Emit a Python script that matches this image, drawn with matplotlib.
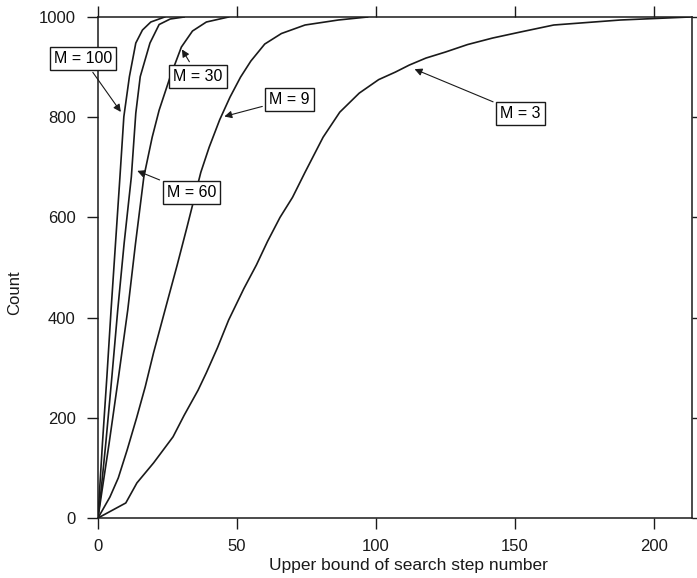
import matplotlib
matplotlib.use("Agg")
import matplotlib.pyplot as plt

plt.rcParams["font.family"] = ["Liberation Sans", "DejaVu Sans"]

# cumulative counts (x = upper bound of search step number)
m3_x = [0, 10, 14, 20, 27, 31, 36, 39, 43, 47, 52.5, 57, 61, 65.5, 70, 74.5, 81, 87, 94, 101, 107, 112, 118, 125, 133, 142, 152, 164, 188, 213]
m3_y = [0, 30, 70, 110, 162, 205, 255, 290, 340, 395, 458, 505, 552, 600, 640, 690, 760, 810, 848, 875, 890, 904, 918, 930, 945, 958, 970, 984, 994, 1000]

m9_x = [0, 4.3, 7.3, 10.5, 13.9, 17, 20, 24.6, 28.5, 32, 34.5, 37, 40, 43.8, 47.5, 51.3, 55, 60, 66, 74.5, 86.5, 97]
m9_y = [0, 42, 80, 136, 200, 262, 330, 425, 505, 580, 635, 690, 740, 795, 840, 880, 912, 946, 967, 984, 994, 1000]

m30_x = [0, 1.3, 4, 7.4, 10.7, 13.5, 16.5, 19.5, 22, 26, 30, 34, 39, 47]
m30_y = [0, 49, 149, 282, 415, 548, 681, 760, 814, 881, 940, 972, 990, 1000]

m60_x = [0, 1, 2.8, 5, 7.1, 9.4, 12, 13.6, 15.2, 18.7, 22, 26, 31]
m60_y = [0, 49, 149, 282, 415, 548, 681, 808, 881, 948, 985, 996, 1000]

m100_x = [0, 0.5, 1.6, 3.2, 4.7, 6.3, 7.9, 9.3, 11.3, 13.6, 16, 19, 24]
m100_y = [0, 49, 149, 282, 415, 548, 681, 801, 881, 948, 974, 990, 1000]

labels = ["M = 3", "M = 9", "M = 30", "M = 60", "M = 100"]
# arrow tip and label-box centre, in data units
tips = [(113, 898), (44.5, 800), (29.7, 940), (13.2, 695), (8.8, 806)]
boxes = [(152, 808), (69, 836), (36, 882), (33.6, 649), (-5.5, 918)]

fig = plt.figure(figsize=(6.97, 5.78), dpi=100)
ax = fig.add_axes([0.1406, 0.1038, 0.852, 0.8668])

for xs, ys in [(m3_x, m3_y), (m9_x, m9_y), (m30_x, m30_y), (m60_x, m60_y), (m100_x, m100_y)]:
    ax.plot(xs, ys, color="#1a1a1a", lw=1.2)

for lab, tip, box in zip(labels, tips, boxes):
    ax.annotate(lab, xy=tip, xytext=box, ha="center", va="center", fontsize=11.5,
                bbox=dict(boxstyle="square,pad=0.25", fc="white", ec="#1a1a1a", lw=1),
                arrowprops=dict(arrowstyle="-|>", color="#1a1a1a", lw=0.8, mutation_scale=11),
                annotation_clip=False, zorder=5)

ax.set_xlim(0, 213.7)
ax.set_ylim(0, 1000)
ax.set_xticks([0, 50, 100, 150, 200])
ax.set_yticks([0, 200, 400, 600, 800, 1000])
ax.tick_params(direction="out", length=8, width=1, colors="#1a1a1a", labelsize=12,
               top=True, right=True, labeltop=False, labelright=False)
ax.tick_params(axis="x", pad=7)
ax.tick_params(axis="y", pad=8)
for s in ax.spines.values():
    s.set_linewidth(1.1)
    s.set_color("#1a1a1a")

ax.set_xlabel("Upper bound of search step number", fontsize=12.5, color="#1a1a1a")
ax.set_ylabel("Count", fontsize=12, color="#1a1a1a")
ax.xaxis.set_label_coords(0.522, -0.08)
ax.yaxis.set_label_coords(-0.128, 0.449)

fig.savefig("out.png", dpi=100)
